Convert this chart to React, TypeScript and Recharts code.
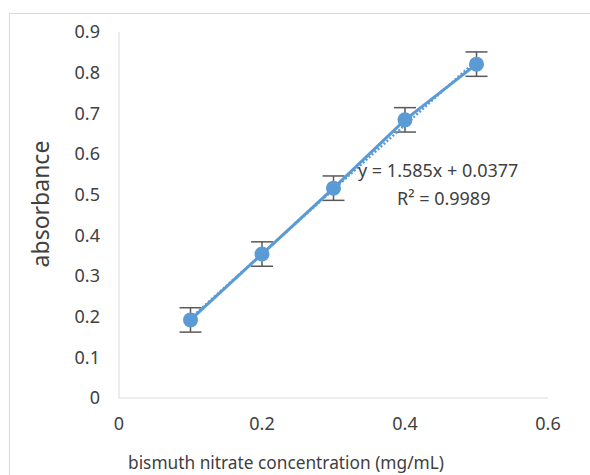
import React from "react";
import { ComposedChart, Line, XAxis, YAxis, ErrorBar } from "recharts";

const concentrations = [0.1, 0.2, 0.3, 0.4, 0.5];
const absorbance = [0.192, 0.354, 0.516, 0.684, 0.821];
const errors = [0.03, 0.03, 0.03, 0.03, 0.03];
const trendX = [0.1, 0.5];
const trendY = [0.196, 0.830];
const xTicks = [0, 0.2, 0.4, 0.6];
const yTicks = [0, 0.1, 0.2, 0.3, 0.4, 0.5, 0.6, 0.7, 0.8, 0.9];

const data = concentrations.map((x, i) => ({ x, y: absorbance[i], err: errors[i] }));
const trend = trendX.map((x, i) => ({ x, t: trendY[i] }));

const FONT = "'Noto Sans', sans-serif";
const BLUE = "#5B9BD5";
const TEXT = "#404040";

export default function App() {
  return (
    <div style={{ position: "absolute", left: 0, top: 0, width: 590, height: 475, overflow: "hidden", background: "#fff", fontFamily: FONT }}>
      <div style={{ position: "absolute", left: 9, top: 13, width: 700, height: 700, borderLeft: "1px solid #d9d9d9", borderTop: "1px solid #d9d9d9" }} />
      <ComposedChart width={590} height={475} margin={{ top: 32, right: 42, left: 59, bottom: 37 }} style={{ position: "absolute", left: 0, top: 0 }}>
        <XAxis
          dataKey="x"
          type="number"
          domain={[0, 0.6]}
          ticks={xTicks}
          height={40}
          tickLine={false}
          tickSize={0}
          tickMargin={19}
          axisLine={{ stroke: "#d9d9d9", strokeWidth: 1 }}
          tick={{ fill: TEXT, fontSize: 18, fontFamily: FONT }}
          allowDataOverflow
        />
        <YAxis
          type="number"
          domain={[0, 0.9]}
          ticks={yTicks}
          width={60}
          tickLine={false}
          tickSize={0}
          tickMargin={19}
          axisLine={{ stroke: "#d9d9d9", strokeWidth: 1 }}
          tick={{ fill: TEXT, fontSize: 18, fontFamily: FONT }}
          allowDataOverflow
        />
        <Line
          data={data}
          dataKey="y"
          stroke={BLUE}
          strokeWidth={3}
          dot={{ r: 7.5, fill: BLUE, stroke: BLUE, strokeWidth: 0 }}
          activeDot={false}
          isAnimationActive={false}
        >
          <ErrorBar dataKey="err" width={11} stroke="#595959" strokeWidth={1.5} direction="y" />
        </Line>
        <Line
          data={trend}
          dataKey="t"
          stroke={BLUE}
          strokeWidth={2.5}
          strokeDasharray="2 2"
          dot={false}
          activeDot={false}
          isAnimationActive={false}
        />
      </ComposedChart>
      <div style={{ position: "absolute", left: 358, top: 158, fontSize: 18, color: TEXT, whiteSpace: "nowrap" }}>y = 1.585x + 0.0377</div>
      <div style={{ position: "absolute", left: 397, top: 186, fontSize: 18, color: TEXT, whiteSpace: "nowrap" }}>R² = 0.9989</div>
      <div style={{ position: "absolute", left: 286, top: 462, transform: "translate(-50%, -50%)", fontSize: 17.3, color: TEXT, whiteSpace: "nowrap" }}>bismuth nitrate concentration (mg/mL)</div>
      <div style={{ position: "absolute", left: 40, top: 204, transform: "translate(-50%, -50%) rotate(-90deg)", fontSize: 23, color: TEXT, whiteSpace: "nowrap" }}>absorbance</div>
    </div>
  );
}
